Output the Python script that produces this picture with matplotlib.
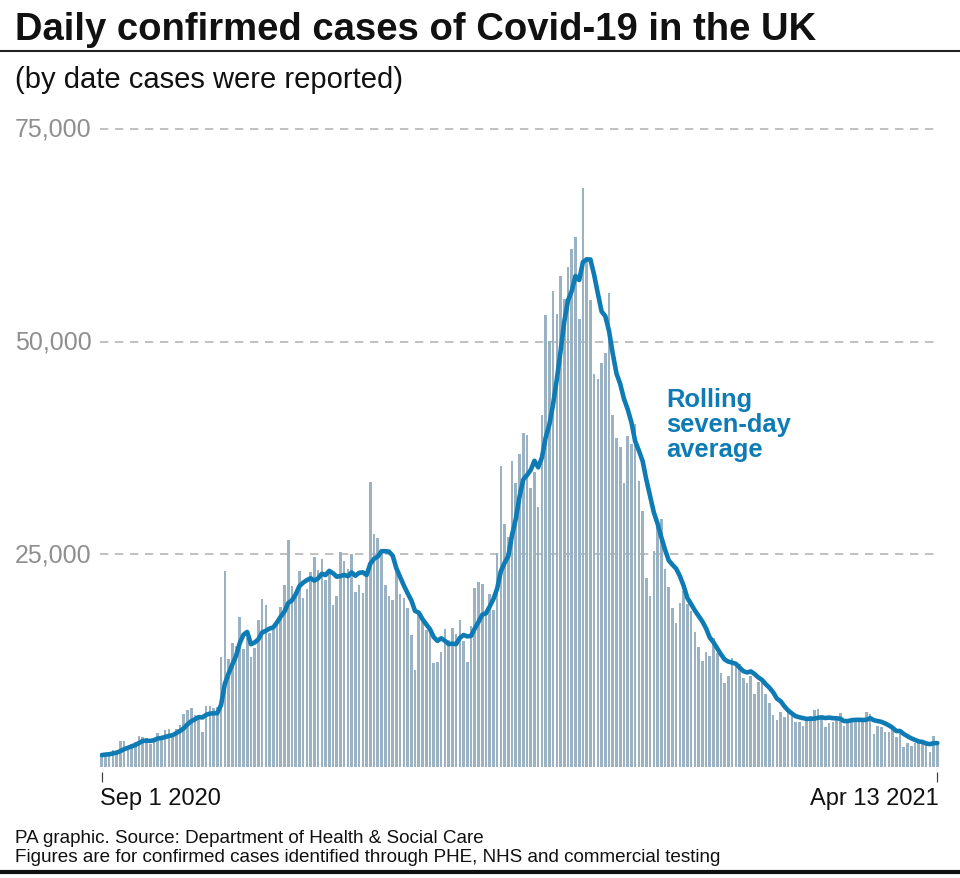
import numpy as np
import matplotlib.pyplot as plt
from matplotlib.lines import Line2D
from matplotlib.transforms import blended_transform_factory

plt.rcParams['font.family'] = ['Liberation Sans', 'DejaVu Sans']

# Daily confirmed cases by date reported, 1 Sep 2020 - 13 Apr 2021
sep_cases = [1295, 1508, 1735, 1940, 1813, 2988, 2948, 2460, 2659, 2919, 3539, 3497, 3330, 2621, 3105,
             3991, 3395, 4322, 4422, 3899, 4368, 4926, 6178, 6634, 6874, 6042, 5693, 4044, 7143, 7108]
oct_cases = [6914, 6968, 12872, 22961, 12594, 14542, 14162, 17540, 13864, 15166, 12872, 13972, 17234, 19724,
             18980, 15650, 16171, 16982, 18804, 21331, 26688, 21242, 20530, 23012, 19790, 20890, 22885, 24701,
             23065, 24405, 21915]
nov_cases = [23254, 18950, 20018, 25177, 24141, 23287, 24957, 20572, 21350, 20412, 22950, 33470, 27301, 26860,
             24962, 21363, 20051, 19609, 22915, 20252, 19875, 18662, 15450, 11299, 18213, 17555, 16022, 15871,
             12155, 12330]
dec_cases = [13430, 16170, 14879, 16298, 15539, 17272, 14718, 12282, 16578, 20964, 21672, 21502, 18447, 20263,
             18450, 25161, 35383, 28507, 27052, 35928, 33364, 36804, 39237, 39036, 32725, 34693, 30501, 41385,
             53135, 50023, 55892]
jan_cases = [53285, 57725, 54990, 58784, 60916, 62322, 52618, 68053, 59937, 54940, 46169, 45533, 47525, 48682,
             55761, 41346, 38598, 37535, 33355, 38905, 37892, 40261, 33552, 30004, 22195, 20089, 25308, 28680,
             29079, 23275, 21088]
feb_cases = [18607, 16840, 19202, 20634, 19114, 18262, 15845, 14104, 12364, 13494, 13013, 15144, 13308, 10972,
             9765, 10625, 12718, 12057, 12027, 10406, 9834, 10641, 8489, 9938, 9985, 8523, 7434, 6035]
mar_cases = [5455, 6391, 5766, 6573, 6040, 5177, 5177, 4712, 5766, 5926, 6609, 6753, 5534, 4618, 5089, 5294,
             5758, 6303, 4802, 5587, 5312, 5342, 5379, 5605, 6397, 6187, 3862, 4715, 4654, 4052, 4040]
apr_cases = [4479, 3423, 3862, 2297, 2762, 2379, 2763, 3150, 3030, 2589, 1730, 3568, 2472]

# Rolling seven-day average, same dates
sep_avg = [1339, 1404, 1435, 1530, 1630, 1812, 2032, 2199, 2363, 2532, 2761, 3001, 3050, 3004, 3096,
           3286, 3354, 3466, 3598, 3679, 3929, 4189, 4501, 4964, 5329, 5560, 5816, 5770, 6087, 6220]
oct_avg = [6260, 6273, 7249, 9716, 10937, 11994, 13002, 14520, 15505, 15833, 14391, 14588, 14973, 15767,
           15973, 16228, 16372, 16959, 17649, 18235, 19229, 19553, 20250, 21227, 21628, 21926, 22148, 21864,
           22125, 22678, 22522]
nov_avg = [23016, 22739, 22330, 22398, 22551, 22392, 22826, 22443, 22786, 22842, 22524, 23857, 24430, 24702,
           25329, 25331, 25280, 24802, 23294, 22287, 21290, 20390, 19545, 18295, 18095, 17329, 16725, 16153,
           15224, 14778]
dec_avg = [15082, 14790, 14408, 14448, 14400, 15131, 15472, 15308, 15367, 16236, 17004, 17855, 18023, 18815,
           19697, 20923, 22983, 23959, 24752, 27249, 29121, 31743, 33754, 34275, 34878, 35970, 35194, 36340,
           38673, 40214, 42622]
jan_avg = [45559, 48849, 52348, 54833, 55945, 57702, 57234, 59344, 59660, 59653, 57851, 55653, 53539, 52977,
           51221, 48565, 46231, 44997, 43257, 42026, 40485, 38270, 37157, 35929, 33738, 31843, 29900, 28584,
           26987, 25519, 24245]
feb_avg = [23732, 23268, 22396, 21246, 19823, 19107, 18358, 17714, 17075, 16260, 15171, 14604, 13896, 13200,
           12580, 12332, 12221, 12084, 11639, 11224, 11062, 11187, 10882, 10485, 10189, 9688, 9263, 8721]
mar_avg = [7980, 7680, 7084, 6597, 6242, 5920, 5797, 5691, 5602, 5624, 5630, 5731, 5782, 5703, 5756, 5689,
           5665, 5621, 5343, 5350, 5449, 5485, 5498, 5476, 5489, 5687, 5441, 5355, 5257, 5067, 4844]
apr_avg = [4570, 4175, 4175, 3830, 3559, 3320, 3138, 2948, 2892, 2710, 2629, 2744, 2757]

y_ticks = [25000, 50000, 75000]
y_tick_labels = ['25,000', '50,000', '75,000']
x_tick_labels = ['Sep 1 2020', 'Apr 13 2021']

cases = np.array(sep_cases + oct_cases + nov_cases + dec_cases + jan_cases + feb_cases + mar_cases + apr_cases)
avg = np.array(sep_avg + oct_avg + nov_avg + dec_avg + jan_avg + feb_avg + mar_avg + apr_avg)
days = np.arange(len(cases))

W, H = 960, 879
BAR = '#9bb2c3'
BLUE = '#0f7bb5'


def fx(px):
    return px / W


def fy(py):
    return 1 - py / H


fig = plt.figure(figsize=(W / 100, H / 100), dpi=100)
ax = fig.add_axes([fx(100), fy(767.5), 840 / W, 663 / H])

ax.bar(days, cases, width=0.7, color=BAR, zorder=2)
ax.plot(days, avg, color=BLUE, lw=3.3, solid_joinstyle='round', solid_capstyle='round', zorder=3)

ax.set_xlim(-0.46, 224.72)
ax.set_ylim(0, 78000)

# dashed gridlines + labels hanging off the left edge of the figure
trans = blended_transform_factory(fig.transFigure, ax.transData)
for v, lab in zip(y_ticks, y_tick_labels):
    ax.axhline(v, color='#b5b5b5', lw=1.2, ls=(0, (5, 4)), zorder=1, clip_on=False)
    ax.text(fx(15), v, lab, transform=trans, ha='left', va='center', fontsize=18, color='#8f8f8f')

# end ticks only, labels placed by hand so they can be left/right aligned
ax.set_yticks([])
ax.set_xticks([days[0], days[-1]])
ax.tick_params(axis='x', length=7, width=0.9, color='#444444', labelbottom=False)
ax.spines['bottom'].set_position(('outward', 4))
for s in ax.spines.values():
    s.set_visible(False)

trans_x = blended_transform_factory(ax.transData, fig.transFigure)
ax.text(days[0] - 0.4, fy(805.5), x_tick_labels[0], transform=trans_x, ha='left', va='baseline',
        fontsize=17, color='#111111')
ax.text(days[-1] + 0.5, fy(805.5), x_tick_labels[1], transform=trans_x, ha='right', va='baseline',
        fontsize=17, color='#111111')

# titles
fig.text(fx(15), fy(40), 'Daily confirmed cases of Covid-19 in the UK',
         fontsize=27.5, fontweight='bold', va='baseline', color='#111111')
fig.add_artist(Line2D([0, 1], [fy(52), fy(52)], transform=fig.transFigure, color='#222222', lw=1.5))
fig.text(fx(15), fy(87.5), '(by date cases were reported)', fontsize=21, va='baseline', color='#111111')

# line label
for i, line in enumerate(['Rolling', 'seven-day', 'average']):
    fig.text(fx(666), fy(406.7 + i * 25.3), line, fontsize=18.4, fontweight='bold', color=BLUE, va='baseline')

# footer
fig.text(fx(15), fy(843.5), 'PA graphic. Source: Department of Health & Social Care',
         fontsize=13.6, va='baseline', color='#111111')
fig.text(fx(15), fy(862.5), 'Figures are for confirmed cases identified through PHE, NHS and commercial testing',
         fontsize=13.6, va='baseline', color='#111111')
fig.add_artist(Line2D([0, 1], [fy(873), fy(873)], transform=fig.transFigure, color='#111111', lw=3))

fig.savefig('out.png', dpi=100)
